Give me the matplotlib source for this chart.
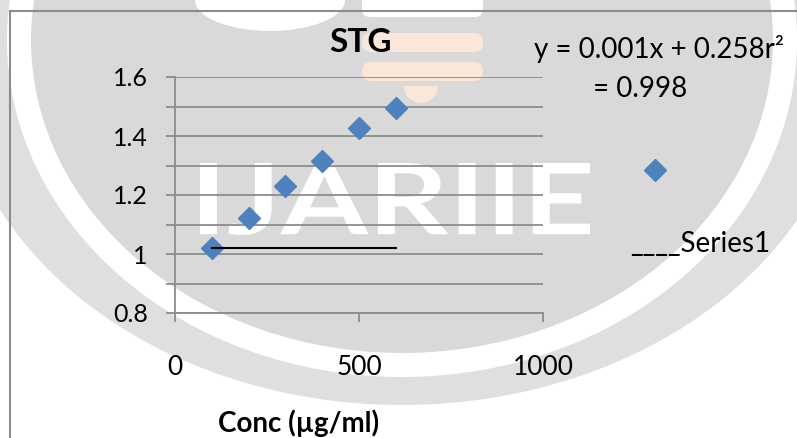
import numpy as np
import matplotlib.pyplot as plt
from matplotlib.patches import Ellipse, FancyBboxPatch, PathPatch, Wedge
from matplotlib.textpath import TextPath
from matplotlib.font_manager import FontProperties
from matplotlib.transforms import Affine2D

plt.rcParams['font.family'] = ['Lato', 'DejaVu Sans']

# data
conc = [100, 200, 300, 400, 500, 600]
absorbance = [1.020, 1.122, 1.230, 1.315, 1.427, 1.495]
series_name = 'Series1'
chart_title = 'STG'
x_label = 'Conc (µg/ml)'
equation_line1 = 'y = 0.001x + 0.258r²'
equation_line2 = '= 0.998'
x_ticks = [0, 500, 1000]
y_ticks = [0.8, 1.0, 1.2, 1.4, 1.6]
y_tick_labels = ['0.8', '1', '1.2', '1.4', '1.6']

W, H = 797, 438
marker_blue = '#4f81bd'
grid_gray = '#8c8c8c'
wm_outer = '#dfdfdf'
wm_inner = '#d9d9d9'
wm_peach = '#fbe6da'


def px(x, y):
    # pixel position -> figure fraction
    return x / W, 1 - y / H


fig = plt.figure(figsize=(W / 100, H / 100), dpi=100)

#%% watermark background, drawn in pixel coordinates
bg = fig.add_axes([0, 0, 1, 1], zorder=0)
bg.set_xlim(0, W)
bg.set_ylim(H, 0)
bg.axis('off')
bg.add_patch(Ellipse((402, 50), 900, 710, color=wm_outer, lw=0))
bg.add_patch(Ellipse((402, 40), 790, 674, color='white', lw=0))
bg.add_patch(Ellipse((402, 40), 742, 626, color=wm_inner, lw=0))
bg.add_patch(Ellipse((270, 0), 150, 62, color='white', lw=0))
bg.add_patch(FancyBboxPatch((362, -10), 121, 27, boxstyle='round,pad=0,rounding_size=8',
                            color='white', lw=0))
for y0 in (33, 62):
    bg.add_patch(FancyBboxPatch((362, y0), 121, 19, boxstyle='round,pad=0,rounding_size=9',
                                color=wm_peach, lw=0))
bg.add_patch(Wedge((421, 86), 17, 0, 180, color=wm_peach, lw=0))

tp = TextPath((0, 0), 'IJARIIE', size=100, prop=FontProperties(family='Lato', weight='bold'))
bb = tp.get_extents()
tr = Affine2D().translate(-bb.x0, -bb.y0).scale(390 / bb.width, -72 / bb.height).translate(200, 235)
bg.add_patch(PathPatch(tr.transform_path(tp), color='white', lw=0))

# chart frame
bg.plot([10, 10], [11, H], color=grid_gray, lw=1.5)
bg.plot([10, W], [11, 11], color=grid_gray, lw=1.5)

#%% main chart
ax = fig.add_axes([175 / W, 1 - 313 / H, 368 / W, 236 / H], zorder=2)
ax.set_facecolor('none')
ax.set_xlim(0, 1000)
ax.set_ylim(0.8, 1.6)
ax.set_yticks(y_ticks, y_tick_labels)
ax.set_yticks(np.arange(0.9, 1.6, 0.2), minor=True)
ax.set_xticks(x_ticks, [str(t) for t in x_ticks])
ax.grid(axis='y', which='both', color=grid_gray, lw=1.3)
ax.set_axisbelow(True)
for s in ('top', 'right'):
    ax.spines[s].set_visible(False)
for s in ('left', 'bottom'):
    ax.spines[s].set_color(grid_gray)
    ax.spines[s].set_linewidth(1.3)
ax.tick_params(axis='y', which='both', length=6.5, width=1.3, color=grid_gray, pad=13, labelsize=18)
ax.tick_params(axis='x', length=6.5, width=1.3, color=grid_gray, pad=24, labelsize=19)

ax.plot(conc, absorbance, 'D', color=marker_blue, ms=11, clip_on=False, zorder=3)
# the (broken) trendline as it appears in the source
ax.plot([conc[0], conc[-1]], [absorbance[0], absorbance[0]], color='black', lw=1.5, zorder=3)

#%% texts
fig.text(*px(360, 52), chart_title, ha='center', va='baseline', fontsize=24, fontweight='bold')
fig.text(*px(534, 58), equation_line1, va='baseline', fontsize=20)
fig.text(*px(593, 97), equation_line2, va='baseline', fontsize=20)
bg.plot(655, 170, 'D', color=marker_blue, ms=11)
fig.text(*px(630, 252), '____' + series_name, va='baseline', fontsize=20)
fig.text(*px(299, 432), x_label, ha='center', va='baseline', fontsize=20, fontweight='bold')

fig.savefig('out.png', dpi=100)
